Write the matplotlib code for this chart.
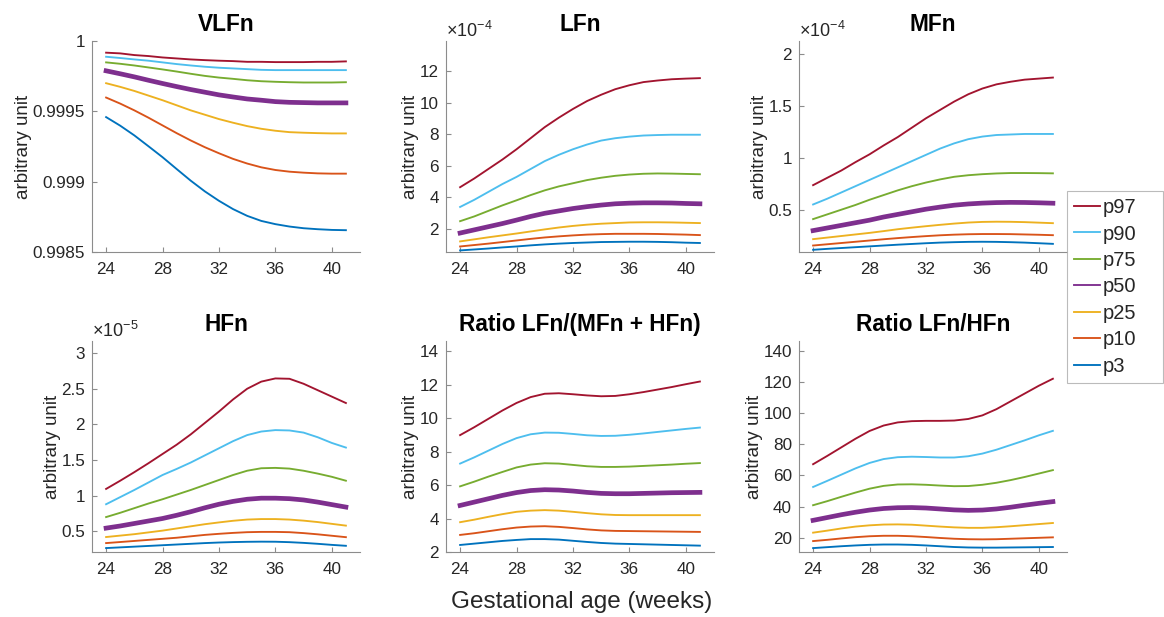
import matplotlib.pyplot as plt
from matplotlib.ticker import FuncFormatter

plt.rcParams['font.family'] = ['Liberation Sans', 'DejaVu Sans']
plt.rcParams['mathtext.fontset'] = 'custom'
plt.rcParams['mathtext.rm'] = 'Liberation Sans'

weeks = list(range(24, 42))
percentiles = ['p97', 'p90', 'p75', 'p50', 'p25', 'p10', 'p3']
colors = ['#A2142F', '#4DBEEE', '#77AC30', '#7E2F8E', '#EDB120', '#D95319', '#0072BD']

# rows follow the order of percentiles (p97 ... p3)
vlfn = [
    [0.999917, 0.999912, 0.999900, 0.999893, 0.999883, 0.999876, 0.999869, 0.999864, 0.999860,
     0.999857, 0.999852, 0.999852, 0.999850, 0.999850, 0.999850, 0.999852, 0.999852, 0.999855],
    [0.999888, 0.999879, 0.999869, 0.999860, 0.999848, 0.999836, 0.999826, 0.999817, 0.999810,
     0.999805, 0.999800, 0.999795, 0.999793, 0.999793, 0.999793, 0.999793, 0.999793, 0.999793],
    [0.999848, 0.999838, 0.999826, 0.999812, 0.999798, 0.999783, 0.999767, 0.999752, 0.999740,
     0.999731, 0.999721, 0.999714, 0.999710, 0.999707, 0.999705, 0.999705, 0.999705, 0.999707],
    [0.999788, 0.999767, 0.999745, 0.999721, 0.999698, 0.999676, 0.999655, 0.999636, 0.999617,
     0.999602, 0.999588, 0.999579, 0.999569, 0.999564, 0.999562, 0.999560, 0.999560, 0.999560],
    [0.999700, 0.999674, 0.999645, 0.999612, 0.999579, 0.999543, 0.999507, 0.999476, 0.999445,
     0.999419, 0.999395, 0.999376, 0.999362, 0.999352, 0.999348, 0.999345, 0.999343, 0.999343],
    [0.999598, 0.999555, 0.999507, 0.999455, 0.999400, 0.999345, 0.999293, 0.999245, 0.999202,
     0.999162, 0.999129, 0.999102, 0.999083, 0.999071, 0.999064, 0.999059, 0.999057, 0.999057],
    [0.999459, 0.999398, 0.999329, 0.999252, 0.999174, 0.999090, 0.999007, 0.998931, 0.998864,
     0.998805, 0.998757, 0.998721, 0.998698, 0.998681, 0.998669, 0.998662, 0.998657, 0.998655],
]

# x 1e-4
lfn = [
    [4.65, 5.2, 5.8, 6.4, 7.05, 7.75, 8.45, 9.05, 9.6, 10.1, 10.5, 10.85, 11.1, 11.3, 11.4, 11.48, 11.52, 11.55],
    [3.4, 3.85, 4.35, 4.85, 5.3, 5.8, 6.3, 6.7, 7.05, 7.35, 7.6, 7.75, 7.85, 7.92, 7.95, 7.97, 7.97, 7.97],
    [2.5, 2.8, 3.15, 3.5, 3.82, 4.15, 4.45, 4.7, 4.9, 5.1, 5.25, 5.37, 5.45, 5.5, 5.52, 5.51, 5.49, 5.47],
    [1.75, 1.95, 2.15, 2.35, 2.57, 2.8, 3.0, 3.15, 3.3, 3.42, 3.52, 3.6, 3.64, 3.66, 3.66, 3.65, 3.62, 3.6],
    [1.22, 1.35, 1.48, 1.6, 1.72, 1.85, 1.98, 2.1, 2.2, 2.28, 2.34, 2.38, 2.42, 2.43, 2.43, 2.42, 2.4, 2.38],
    [0.9, 0.99, 1.08, 1.18, 1.28, 1.38, 1.47, 1.54, 1.6, 1.65, 1.68, 1.7, 1.7, 1.7, 1.69, 1.67, 1.65, 1.62],
    [0.65, 0.71, 0.77, 0.84, 0.9, 0.97, 1.03, 1.08, 1.12, 1.15, 1.18, 1.19, 1.2, 1.2, 1.19, 1.17, 1.14, 1.12],
]

# x 1e-4
mfn = [
    [0.74, 0.81, 0.88, 0.96, 1.035, 1.12, 1.2, 1.29, 1.38, 1.46, 1.54, 1.61, 1.665, 1.705, 1.73, 1.75, 1.76, 1.77],
    [0.555, 0.61, 0.67, 0.73, 0.79, 0.85, 0.91, 0.97, 1.03, 1.09, 1.14, 1.18, 1.205, 1.22, 1.225, 1.23, 1.23, 1.23],
    [0.415, 0.46, 0.505, 0.55, 0.6, 0.645, 0.69, 0.73, 0.765, 0.795, 0.82, 0.835, 0.845, 0.852, 0.856, 0.856, 0.855, 0.853],
    [0.305, 0.33, 0.355, 0.38, 0.405, 0.435, 0.46, 0.485, 0.51, 0.53, 0.548, 0.56, 0.568, 0.573, 0.575, 0.574, 0.571, 0.567],
    [0.223, 0.238, 0.253, 0.268, 0.283, 0.3, 0.318, 0.333, 0.347, 0.36, 0.372, 0.382, 0.388, 0.39, 0.389, 0.386, 0.381, 0.376],
    [0.162, 0.174, 0.186, 0.198, 0.21, 0.222, 0.233, 0.243, 0.252, 0.26, 0.266, 0.27, 0.272, 0.272, 0.271, 0.268, 0.265, 0.261],
    [0.121, 0.13, 0.138, 0.146, 0.154, 0.162, 0.17, 0.177, 0.184, 0.19, 0.194, 0.197, 0.198, 0.197, 0.194, 0.19, 0.184, 0.178],
]

# x 1e-5
hfn = [
    [1.095, 1.21, 1.33, 1.455, 1.585, 1.715, 1.86, 2.02, 2.18, 2.35, 2.5, 2.6, 2.645, 2.64, 2.57, 2.48, 2.39, 2.3],
    [0.88, 0.98, 1.08, 1.185, 1.29, 1.375, 1.465, 1.565, 1.665, 1.765, 1.85, 1.9, 1.92, 1.915, 1.885, 1.82, 1.74, 1.675],
    [0.7, 0.76, 0.825, 0.89, 0.95, 1.015, 1.08, 1.15, 1.22, 1.29, 1.35, 1.385, 1.39, 1.38, 1.35, 1.31, 1.265, 1.21],
    [0.545, 0.575, 0.61, 0.645, 0.68, 0.725, 0.775, 0.83, 0.88, 0.92, 0.95, 0.965, 0.965, 0.958, 0.94, 0.91, 0.875, 0.84],
    [0.42, 0.44, 0.46, 0.485, 0.51, 0.54, 0.57, 0.6, 0.625, 0.648, 0.665, 0.672, 0.672, 0.665, 0.65, 0.63, 0.605, 0.58],
    [0.335, 0.35, 0.365, 0.38, 0.395, 0.41, 0.43, 0.45, 0.465, 0.478, 0.488, 0.492, 0.492, 0.488, 0.475, 0.458, 0.438, 0.418],
    [0.265, 0.275, 0.285, 0.295, 0.305, 0.315, 0.325, 0.335, 0.343, 0.349, 0.353, 0.355, 0.354, 0.348, 0.338, 0.325, 0.31, 0.297],
]

ratio_lf_mfhf = [
    [8.98, 9.45, 9.95, 10.45, 10.9, 11.25, 11.45, 11.48, 11.42, 11.35, 11.3, 11.32, 11.42, 11.55, 11.7, 11.85, 12.02, 12.18],
    [7.28, 7.65, 8.05, 8.45, 8.8, 9.03, 9.13, 9.12, 9.05, 8.97, 8.93, 8.94, 9.0, 9.08, 9.17, 9.26, 9.35, 9.43],
    [5.92, 6.2, 6.5, 6.78, 7.05, 7.22, 7.3, 7.28, 7.2, 7.12, 7.08, 7.08, 7.1, 7.14, 7.18, 7.22, 7.27, 7.31],
    [4.78, 4.98, 5.18, 5.38, 5.55, 5.67, 5.72, 5.7, 5.64, 5.56, 5.5, 5.48, 5.48, 5.5, 5.52, 5.54, 5.55, 5.56],
    [3.78, 3.93, 4.1, 4.26, 4.4, 4.47, 4.5, 4.47, 4.4, 4.32, 4.25, 4.21, 4.2, 4.2, 4.2, 4.2, 4.2, 4.2],
    [3.02, 3.12, 3.24, 3.36, 3.46, 3.52, 3.54, 3.5, 3.43, 3.35, 3.29, 3.26, 3.25, 3.24, 3.23, 3.22, 3.21, 3.2],
    [2.42, 2.5, 2.58, 2.66, 2.72, 2.77, 2.77, 2.74, 2.67, 2.6, 2.54, 2.5, 2.48, 2.46, 2.44, 2.42, 2.4, 2.38],
]

ratio_lf_hf = [
    [67.2, 72.5, 78, 83.5, 88.5, 92, 94, 94.8, 95, 95, 95.2, 96.2, 98.5, 102.5, 107.5, 112.5, 117.5, 122],
    [52.6, 56.5, 60.5, 64.5, 68, 70.5, 71.7, 72, 71.8, 71.5, 71.5, 72.3, 74, 76.5, 79.5, 82.5, 85.7, 88.6],
    [40.9, 43.5, 46.3, 49, 51.5, 53.3, 54.2, 54.3, 54, 53.5, 53.1, 53.2, 54, 55.3, 57, 59, 61.2, 63.4],
    [31.2, 33, 34.8, 36.4, 37.8, 38.8, 39.3, 39.4, 39.1, 38.5, 37.9, 37.6, 37.8, 38.5, 39.6, 40.9, 42.1, 43.2],
    [23.3, 24.6, 26, 27.2, 28, 28.5, 28.6, 28.4, 27.8, 27.2, 26.7, 26.4, 26.4, 26.8, 27.4, 28.1, 28.8, 29.5],
    [17.9, 18.7, 19.6, 20.4, 21, 21.3, 21.3, 21, 20.5, 19.9, 19.4, 19.1, 19, 19.1, 19.4, 19.7, 20, 20.3],
    [13.4, 14, 14.6, 15.1, 15.5, 15.7, 15.7, 15.5, 15.1, 14.6, 14.1, 13.8, 13.7, 13.7, 13.8, 13.9, 14, 14.1],
]

titles = ['VLFn', 'LFn', 'MFn', 'HFn', 'Ratio LFn/(MFn + HFn)', 'Ratio LFn/HFn']
datasets = [vlfn, lfn, mfn, hfn, ratio_lf_mfhf, ratio_lf_hf]
exponents = [None, -4, -4, -5, None, None]
ylims = [(0.9985, 1.0), (0.55, 13.9), (0.1, 2.12), (0.21, 3.17), (2, 14.6), (10.9, 146.2)]
yticks = [[0.9985, 0.999, 0.9995, 1], [2, 4, 6, 8, 10, 12], [0.5, 1, 1.5, 2],
          [0.5, 1, 1.5, 2, 2.5, 3], [2, 4, 6, 8, 10, 12, 14], [20, 40, 60, 80, 100, 120, 140]]

grey = '#8c8c8c'
txt = '#262626'

fig = plt.figure(figsize=(11.64, 6.17), dpi=100)
lefts = [92, 446, 799]
tops = [41, 341]
W, H = 1164, 617

axes = []
for i in range(6):
    r, c = divmod(i, 3)
    ax = fig.add_axes([lefts[c] / W, 1 - (tops[r] + 211) / H, 268 / W, 211 / H])
    axes.append(ax)
    for name, color, row in zip(percentiles, colors, datasets[i]):
        lw = 3.4 if name == 'p50' else 1.35
        ax.plot(weeks, row, color=color, lw=lw, label=name)
    ax.set_xlim(23, 42)
    ax.set_ylim(*ylims[i])
    ax.set_xticks([24, 28, 32, 36, 40])
    ax.set_yticks(yticks[i])
    ax.yaxis.set_major_formatter(FuncFormatter(lambda v, p: f'{v:g}'))
    for s in ['top', 'right']:
        ax.spines[s].set_visible(False)
    for s in ['left', 'bottom']:
        ax.spines[s].set_color(grey)
        ax.spines[s].set_linewidth(0.8)
    ax.tick_params(direction='in', length=3.5, width=0.8, color=grey,
                   labelcolor=txt, labelsize=12.3)
    ax.tick_params(axis='x', pad=7)
    ax.tick_params(axis='y', pad=5)
    ax.set_title(titles[i], fontsize=16.3, fontweight='bold', color='black', pad=7)
    ax.set_ylabel('arbitrary unit', fontsize=13.5, color=txt, labelpad=0.5)
    if exponents[i] is not None:
        ax.text(0, 1.02, r'$\times\mathregular{10^{%d}}$' % exponents[i], transform=ax.transAxes,
                fontsize=13, color=txt, ha='left', va='baseline')

fig.text(582 / W, 1 - 602 / H, 'Gestational age (weeks)', fontsize=17.5, color=txt,
         ha='center', va='center')

handles, labels = axes[0].get_legend_handles_labels()
leg = fig.legend(handles, labels, loc='upper left',
                 bbox_to_anchor=(1067 / W, 1 - 381 / H, 96 / W, 190 / H), mode='expand',
                 fontsize=14.5, frameon=True, fancybox=False, edgecolor='#aaaaaa',
                 handlelength=1.3, handletextpad=0.12, labelspacing=0.37,
                 borderpad=0.35, borderaxespad=0)
leg.get_frame().set_linewidth(0.8)
for t in leg.get_texts():
    t.set_color(txt)
for h in leg.get_lines():
    h.set_linewidth(1.35)

fig.savefig('out.png', dpi=100)
